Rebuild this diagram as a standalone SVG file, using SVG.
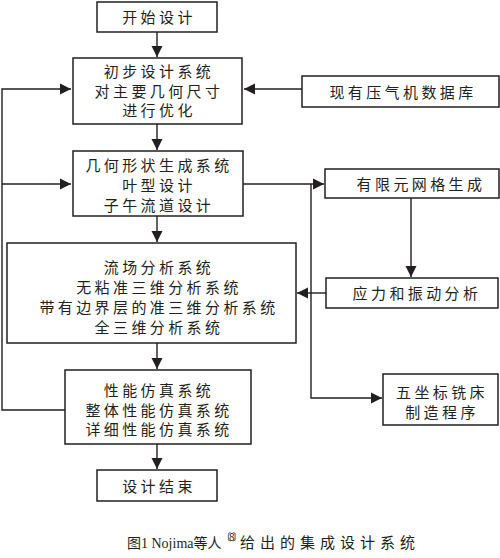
<svg xmlns="http://www.w3.org/2000/svg" width="500" height="558" viewBox="0 0 500 558">
<style>
.box{fill:#fff;stroke:#231f20;stroke-width:1.5}
.t{font-family:"Noto Sans CJK SC","Noto Sans",sans-serif;font-size:15px;fill:#231f20;text-anchor:middle;letter-spacing:3.4px}
.c{fill:none;stroke:#231f20;stroke-width:1.4}
.cap{font-family:"Liberation Serif","Noto Sans CJK SC",serif;fill:#231f20}
</style>
<defs>
<marker id="ah" markerUnits="userSpaceOnUse" markerWidth="12" markerHeight="12" viewBox="0 0 12 12" refX="11" refY="6" orient="auto">
<path d="M0,0.5 L11,6 L0,11.5 Z" fill="#231f20"/>
</marker>
</defs>
<rect width="500" height="558" fill="#fff"/>
<g id="connectors">
<line class="c" x1="157" y1="32" x2="157" y2="57" marker-end="url(#ah)"/>
<line class="c" x1="302" y1="89" x2="244" y2="89" marker-end="url(#ah)"/>
<polyline class="c" points="65,410 2,410 2,89 71,89" marker-end="url(#ah)"/>
<line class="c" x1="2" y1="184" x2="71" y2="184" marker-end="url(#ah)"/>
<line class="c" x1="157" y1="124" x2="157" y2="150" marker-end="url(#ah)"/>
<line class="c" x1="243" y1="184" x2="324" y2="184" marker-end="url(#ah)"/>
<polyline class="c" points="311,184 311,398 382,398" marker-end="url(#ah)"/>
<line class="c" x1="411" y1="198" x2="411" y2="277" marker-end="url(#ah)"/>
<line class="c" x1="326" y1="293" x2="297" y2="293" marker-end="url(#ah)"/>
<line class="c" x1="157" y1="216" x2="157" y2="242" marker-end="url(#ah)"/>
<line class="c" x1="157" y1="343" x2="157" y2="369" marker-end="url(#ah)"/>
<line class="c" x1="157" y1="444" x2="157" y2="469" marker-end="url(#ah)"/>
</g>
<g id="start">
<rect class="box" x="97" y="2" width="120" height="30"/>
<text class="t" x="159" y="22.5">开始设计</text>
</g>
<g id="prelim">
<rect class="box" x="73" y="58" width="169" height="66"/>
<text class="t" x="159" y="76.5">初步设计系统</text>
<text class="t" x="159" y="96.5">对主要几何尺寸</text>
<text class="t" x="159" y="115.5">进行优化</text>
</g>
<g id="database">
<rect class="box" x="302" y="76" width="197" height="31"/>
<text class="t" x="403" y="97.5">现有压气机数据库</text>
</g>
<g id="geometry">
<rect class="box" x="73" y="151" width="170" height="65"/>
<text class="t" x="159" y="170.5">几何形状生成系统</text>
<text class="t" x="159" y="190.5">叶型设计</text>
<text class="t" x="159" y="210.5">子午流道设计</text>
</g>
<g id="mesh">
<rect class="box" x="325" y="169" width="174" height="29"/>
<text class="t" x="421" y="189.5">有限元网格生成</text>
</g>
<g id="stress">
<rect class="box" x="326" y="278" width="172" height="30"/>
<text class="t" x="417" y="299">应力和振动分析</text>
</g>
<g id="flow">
<rect class="box" x="7" y="243" width="289" height="100"/>
<text class="t" x="159" y="272.5">流场分析系统</text>
<text class="t" x="159" y="292.5">无粘准三维分析系统</text>
<text class="t" x="159" y="312.5">带有边界层的准三维分析系统</text>
<text class="t" x="159" y="332.5">全三维分析系统</text>
</g>
<g id="milling">
<rect class="box" x="383" y="374" width="115" height="51"/>
<text class="t" x="442" y="397.5">五坐标铣床</text>
<text class="t" x="442" y="417.5">制造程序</text>
</g>
<g id="performance">
<rect class="box" x="65" y="370" width="186" height="74"/>
<text class="t" x="159" y="395.5">性能仿真系统</text>
<text class="t" x="159" y="415.5">整体性能仿真系统</text>
<text class="t" x="159" y="434.5">详细性能仿真系统</text>
</g>
<g id="end">
<rect class="box" x="97" y="470" width="120" height="31"/>
<text class="t" x="159" y="491.5">设计结束</text>
</g>
<g id="caption">
<text class="cap" x="127" y="548" style="font-size:14px">图1 Nojima等人</text>
<text x="221" y="541" style="font-family:'Noto Sans CJK SC',sans-serif;font-size:10px;letter-spacing:-2px;fill:#231f20">〔8〕</text>
<text class="cap" x="240" y="548" style="font-size:15px;letter-spacing:5px">给出的集成设计系统</text>
</g>
</svg>
